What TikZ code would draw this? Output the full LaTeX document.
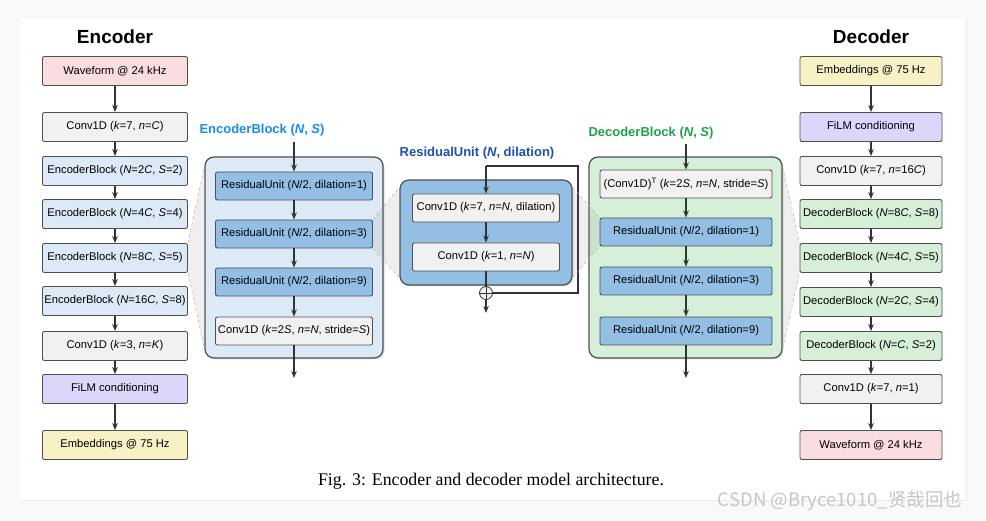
\documentclass[tikz,border=0pt]{standalone}
\usepackage{fontspec}
\setmainfont{Liberation Sans}
\newfontfamily\capfont{Liberation Serif}
\newfontfamily\cjk{Noto Sans CJK SC}
\usetikzlibrary{arrows.meta,shadows}

\definecolor{boxline}{HTML}{505050}
\definecolor{arrowc}{HTML}{333333}
\definecolor{pinkfill}{HTML}{F9DDE0}
\definecolor{grayfill}{HTML}{F1F1F1}
\definecolor{encfill}{HTML}{DCEAF7}
\definecolor{resfill}{HTML}{93BFE5}
\definecolor{filmfill}{HTML}{DDD6FB}
\definecolor{embfill}{HTML}{F8F1C5}
\definecolor{decfill}{HTML}{D5EFD9}
\definecolor{enctitle}{HTML}{1A8CF0}
\definecolor{restitle}{HTML}{1F50B0}
\definecolor{dectitle}{HTML}{1FA24A}

\tikzset{
  blk/.style={draw=boxline, rounded corners=2pt, minimum height=29, inner sep=0pt,
    line width=0.9pt, font=\fontsize{11.2}{13}\selectfont},
  lcol/.style={blk, minimum width=145},
  rcol/.style={blk, minimum width=142},
  bigbox/.style={draw=boxline, rounded corners=9pt, line width=1.2pt,
    drop shadow={opacity=0.25, shadow xshift=1.5pt, shadow yshift=-1.5pt}},
  arr/.style={-{Stealth[length=7pt,width=5.5pt]}, line width=1.5pt, draw=arrowc},
  skip/.style={line width=1.5pt, draw=arrowc},
  funnel/.style={dashed, draw=gray!60, line width=0.5pt},
  funnelfill/.style={fill=gray, fill opacity=0.12},
  title/.style={font=\bfseries\fontsize{19}{22}\selectfont},
  subtitle/.style={font=\bfseries\fontsize{13}{15}\selectfont},
}

\begin{document}
\begin{tikzpicture}[x=1pt,y=-1pt]
    \useasboundingbox (0,0) rectangle (986,521);
    \fill[gray!5] (0,0) rectangle (986,521);
    \path[fill=white, drop shadow={opacity=0.12, shadow xshift=1pt, shadow yshift=-1pt}]
        (20,19) rectangle (966,500);

    % encoder column
    \node[title] (enc) at (115,37) {Encoder};
    \node[lcol, fill=pinkfill] (ewav) at (115,71) {Waveform @ 24 kHz};
    \node[lcol, fill=grayfill] (econv1) at (115,127) {Conv1D (\textit{k}=7, \textit{n}=\textit{C})};
    \node[lcol, fill=encfill] (eb1) at (115,171) {EncoderBlock (\textit{N}=2\textit{C}, \textit{S}=2)};
    \node[lcol, fill=encfill] (eb2) at (115,214) {EncoderBlock (\textit{N}=4\textit{C}, \textit{S}=4)};
    \node[lcol, fill=encfill] (eb3) at (115,258) {EncoderBlock (\textit{N}=8\textit{C}, \textit{S}=5)};
    \node[lcol, fill=encfill] (eb4) at (115,301) {EncoderBlock (\textit{N}=16\textit{C}, \textit{S}=8)};
    \node[lcol, fill=grayfill] (econv2) at (115,346) {Conv1D (\textit{k}=3, \textit{n}=\textit{K})};
    \node[lcol, fill=filmfill] (efilm) at (115,389) {FiLM conditioning};
    \node[lcol, fill=embfill] (eemb) at (115,445) {Embeddings @ 75 Hz};

    \draw[arr] (ewav) -- (econv1);
    \draw[arr] (econv1) -- (eb1);
    \draw[arr] (eb1) -- (eb2);
    \draw[arr] (eb2) -- (eb3);
    \draw[arr] (eb3) -- (eb4);
    \draw[arr] (eb4) -- (econv2);
    \draw[arr] (econv2) -- (efilm);
    \draw[arr] (efilm) -- (eemb);

    % encoder block
    \node[subtitle, text=enctitle] (encbt) at (262,130) {EncoderBlock (\textit{N}, \textit{S})};
    \node[bigbox, fill=encfill, minimum width=178, minimum height=201] (encblk) at (294,257.5) {};
    \node[blk, fill=resfill, minimum width=157, minimum height=28] (eru1) at (294,186) {ResidualUnit (\textit{N}/2, dilation=1)};
    \node[blk, fill=resfill, minimum width=157, minimum height=28] (eru2) at (294,234) {ResidualUnit (\textit{N}/2, dilation=3)};
    \node[blk, fill=resfill, minimum width=157, minimum height=28] (eru3) at (294,282) {ResidualUnit (\textit{N}/2, dilation=9)};
    \node[blk, fill=grayfill, minimum width=157, minimum height=28] (estride) at (294,331) {Conv1D (\textit{k}=2\textit{S}, \textit{n}=\textit{N}, stride=\textit{S})};
    \coordinate (encin) at (294,142);
    \coordinate (encout) at (294,378);

    \draw[arr] (encin) -- (eru1);
    \draw[arr] (eru1) -- (eru2);
    \draw[arr] (eru2) -- (eru3);
    \draw[arr] (eru3) -- (estride);
    \draw[arr] (estride) -- (encout);

    % residual unit
    \node[subtitle, text=restitle] (resbt) at (477,153) {ResidualUnit (\textit{N}, dilation)};
    \node[bigbox, fill=resfill, minimum width=172, minimum height=105] (resblk) at (486,232.5) {};
    \node[blk, fill=grayfill, minimum width=147, minimum height=28] (rc1) at (486,208) {Conv1D (\textit{k}=7, \textit{n}=\textit{N}, dilation)};
    \node[blk, fill=grayfill, minimum width=147, minimum height=28] (rc2) at (486,257) {Conv1D (\textit{k}=1, \textit{n}=\textit{N})};
    \node[circle, draw=arrowc, fill=grayfill, minimum size=13, inner sep=0pt, line width=0.8pt,
        path picture={\draw[arrowc, line width=0.8pt]
            (path picture bounding box.north) -- (path picture bounding box.south)
            (path picture bounding box.west) -- (path picture bounding box.east);}] (plus) at (486,293) {};
    \coordinate (resin) at (486,166);
    \coordinate (resout) at (486,313);

    \draw[arr] (resin) -- (rc1);
    \draw[arr] (rc1) -- (rc2);
    \draw[skip] (rc2) -- (plus);
    \draw[skip] (resin) -- ++(92,0) |- (plus);
    \draw[arr] (plus) -- (resout);

    % decoder block
    \node[subtitle, text=dectitle] (decbt) at (651,133) {DecoderBlock (\textit{N}, \textit{S})};
    \node[bigbox, fill=decfill, minimum width=193, minimum height=201] (decblk) at (685.5,257.5) {};
    \node[blk, fill=grayfill, minimum width=172, minimum height=28] (dtr) at (686,184) {(Conv1D)\textsuperscript{T} (\textit{k}=2\textit{S}, \textit{n}=\textit{N}, stride=\textit{S})};
    \node[blk, fill=resfill, minimum width=172, minimum height=28] (dru1) at (686,232) {ResidualUnit (\textit{N}/2, dilation=1)};
    \node[blk, fill=resfill, minimum width=172, minimum height=28] (dru2) at (686,281) {ResidualUnit (\textit{N}/2, dilation=3)};
    \node[blk, fill=resfill, minimum width=172, minimum height=28] (dru3) at (686,331) {ResidualUnit (\textit{N}/2, dilation=9)};
    \coordinate (decin) at (686,144);
    \coordinate (decout) at (686,378);

    \draw[arr] (decin) -- (dtr);
    \draw[arr] (dtr) -- (dru1);
    \draw[arr] (dru1) -- (dru2);
    \draw[arr] (dru2) -- (dru3);
    \draw[arr] (dru3) -- (decout);

    % decoder column
    \node[title] (dec) at (871,37) {Decoder};
    \node[rcol, fill=embfill] (demb) at (871,71) {Embeddings @ 75 Hz};
    \node[rcol, fill=filmfill] (dfilm) at (871,127) {FiLM conditioning};
    \node[rcol, fill=grayfill] (dconv1) at (871,171) {Conv1D (\textit{k}=7, \textit{n}=16\textit{C})};
    \node[rcol, fill=decfill] (db1) at (871,214) {DecoderBlock (\textit{N}=8\textit{C}, \textit{S}=8)};
    \node[rcol, fill=decfill] (db2) at (871,258) {DecoderBlock (\textit{N}=4\textit{C}, \textit{S}=5)};
    \node[rcol, fill=decfill] (db3) at (871,302) {DecoderBlock (\textit{N}=2\textit{C}, \textit{S}=4)};
    \node[rcol, fill=decfill] (db4) at (871,346) {DecoderBlock (\textit{N}=\textit{C}, \textit{S}=2)};
    \node[rcol, fill=grayfill] (dconv2) at (871,389) {Conv1D (\textit{k}=7, \textit{n}=1)};
    \node[rcol, fill=pinkfill] (dwav) at (871,445) {Waveform @ 24 kHz};

    \draw[arr] (demb) -- (dfilm);
    \draw[arr] (dfilm) -- (dconv1);
    \draw[arr] (dconv1) -- (db1);
    \draw[arr] (db1) -- (db2);
    \draw[arr] (db2) -- (db3);
    \draw[arr] (db3) -- (db4);
    \draw[arr] (db4) -- (dconv2);
    \draw[arr] (dconv2) -- (dwav);

    % zoom funnels
    \fill[funnelfill] (eb3.north east) -- ([yshift=-10pt]encblk.north west) -- ([yshift=10pt]encblk.south west) -- (eb3.south east) -- cycle;
    \draw[funnel] (eb3.north east) -- ([yshift=-10pt]encblk.north west) (eb3.south east) -- ([yshift=10pt]encblk.south west);
    \fill[funnelfill] (eru2.north east) -- ([yshift=-8pt]resblk.north west) -- ([yshift=8pt]resblk.south west) -- (eru2.south east) -- cycle;
    \draw[funnel] (eru2.north east) -- ([yshift=-8pt]resblk.north west) (eru2.south east) -- ([yshift=8pt]resblk.south west);
    \fill[funnelfill] ([yshift=-8pt]resblk.north east) -- (dru1.north west) -- (dru1.south west) -- ([yshift=8pt]resblk.south east) -- cycle;
    \draw[funnel] ([yshift=-8pt]resblk.north east) -- (dru1.north west) ([yshift=8pt]resblk.south east) -- (dru1.south west);
    \fill[funnelfill] ([yshift=-10pt]decblk.north east) -- (db2.north west) -- (db2.south west) -- ([yshift=10pt]decblk.south east) -- cycle;
    \draw[funnel] ([yshift=-10pt]decblk.north east) -- (db2.north west) ([yshift=10pt]decblk.south east) -- (db2.south west);

    % caption and mark
    \node[font=\capfont\fontsize{17.8}{20}\selectfont] (cap) at (491,481) {Fig. 3: Encoder and decoder model architecture.};
    \node[font=\cjk\fontsize{18.5}{20}\selectfont, text=gray!45] (wm) at (840,501) {CSDN @Bryce1010\_贤哉回也};
\end{tikzpicture}
\end{document}
